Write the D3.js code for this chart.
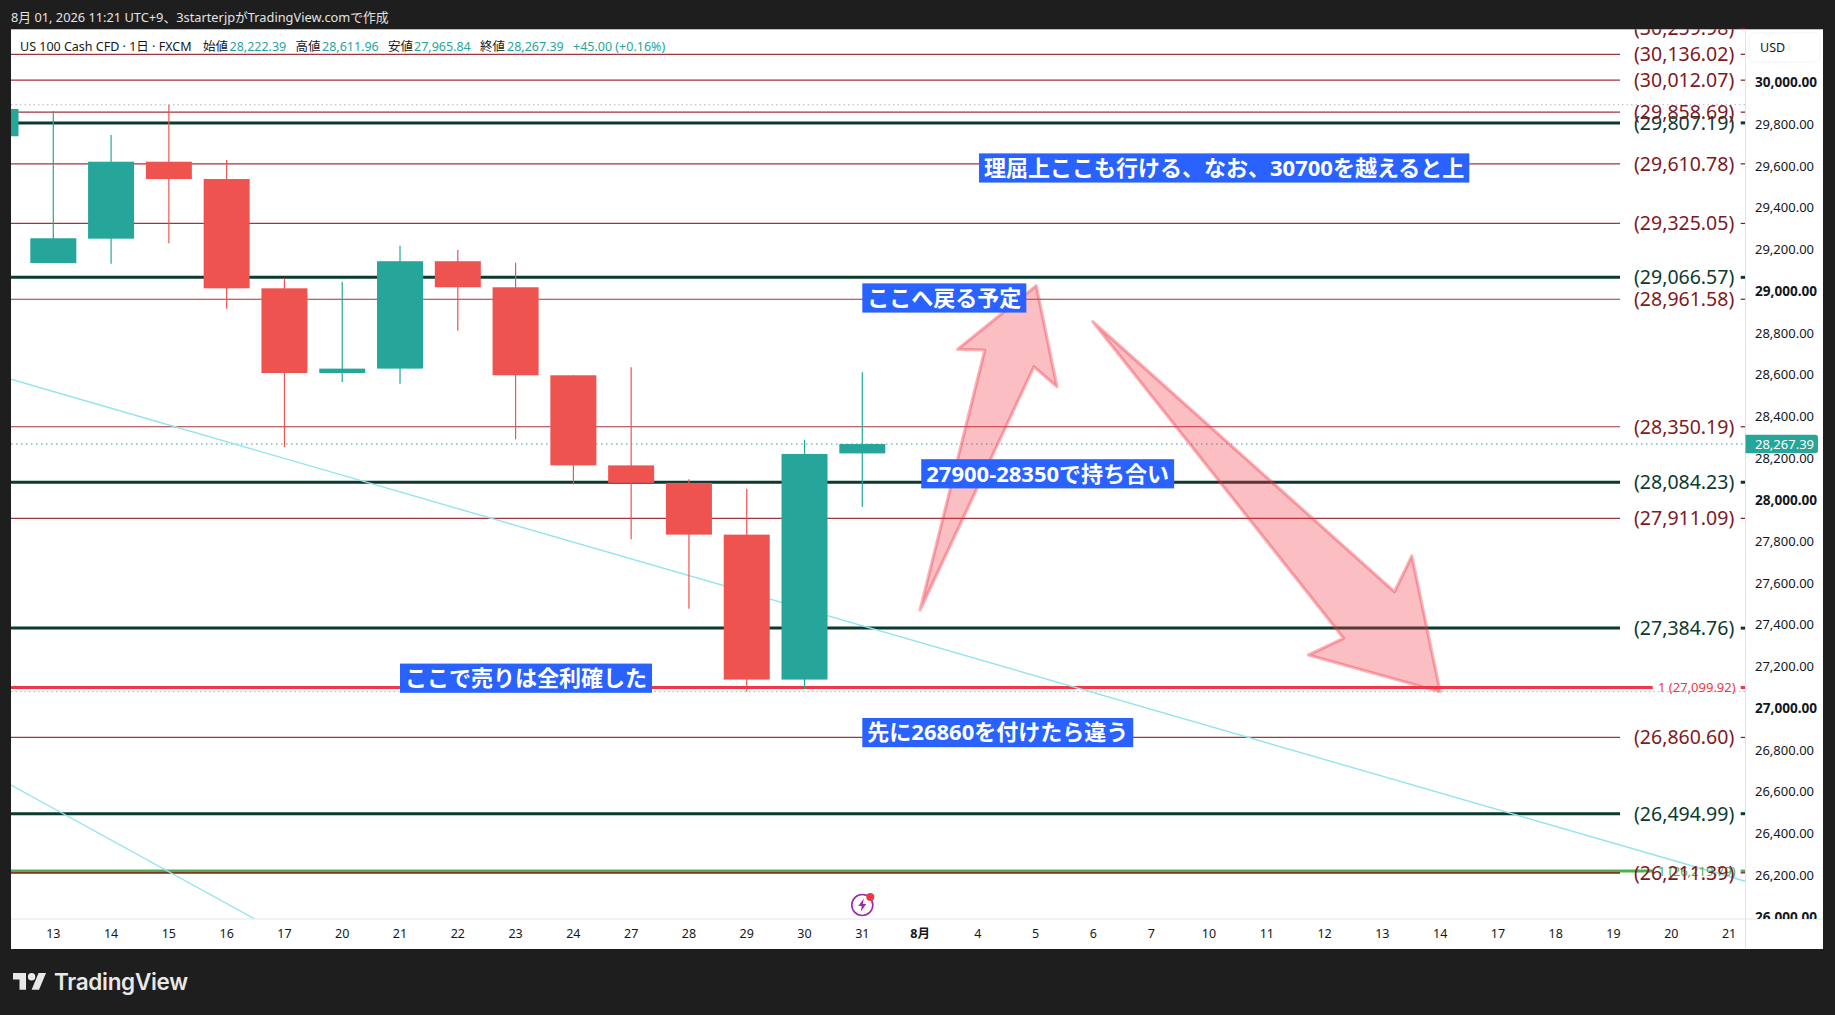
<!DOCTYPE html>
<html><head><meta charset="utf-8">
<script src="https://cdnjs.cloudflare.com/ajax/libs/d3/7.8.5/d3.min.js"></script>
<style>
html,body{margin:0;padding:0;background:#1e1e1e;overflow:hidden}
svg{display:block}
text{font-family:"Noto Sans","Noto Sans CJK JP",sans-serif}
</style></head><body><div id="c"></div>
<script>
// ---------- data ----------
const dates = ["13","14","15","16","17","20","21","22","23","24","27","28","29","30","31","8月","4","5","6","7","10","11","12","13","14","17","18","19","20","21"];
// OHLC, index -1 is the partial candle at the left edge
const candleIndex = [-1,0,1,2,3,4,5,6,7,8,9,10,11,12,13,14];
const opens  = [29743,29135,29252,29621,29538,29014,28608,28629,29144,29019,28597,28165,28081,27833,27138,28222.39];
const closes = [29874,29254,29621,29538,29014,28608,28629,29144,29019,28597,28165,28081,27833,27138,28220,28267.39];
const highs  = [29874,29864,29749,29894,29629,29062,29046,29218,29198,29137,28597,28635,28098,28053,28288,28611.96];
const lows   = [29743,29135,29132,29230,28916,28252,28565,28557,28811,28290,28074,27811,27478,27080,27091,27965.84];
const thinLevels = [30259.98,30136.02,30012.07,29858.69,29610.78,29325.05,28961.58,28350.19,27911.09,26860.60,26211.39];
const darkLevels = [29807.19,29066.57,28084.23,27384.76,26494.99];
const smallLevels = [[27099.92,"#f23645"],[26219.79,"#4caf50"]];
const axisTicks = [26000,26200,26400,26600,26800,27000,27200,27400,27600,27800,28000,28200,28400,28600,28800,29000,29200,29400,29600,29800,30000];
const lastPrice = 28267.39;
const trendA = [[-0.732,28577.8],[29.28,26171]];
const trendB = [[-0.732,26632.6],[3.49,25990]];
const arrowUp = [[15.0,27471.6],[16.12,28718.2],[15.65,28721.6],[17.01,29026.5],[17.37,28542.3],[16.97,28638.2]];
const arrowDown = [[17.99,28853.9],[23.21,27559.4],[23.51,27730.6],[24.0,27079.9],[21.72,27255.9],[22.33,27336]];
const notes = [
 ["理屈上ここも行ける、なお、30700を越えると上",16.02,29591],
 ["ここへ戻る予定",14,28967.6],
 ["27900-28350で持ち合い",15.02,28124.7],
 ["ここで売りは全利確した",6,27144.7],
 ["先に26860を付けたら違う",14.0,26884]
];
const legendParts = [
 ["US 100 Cash CFD · 1日 · FXCM",20,"#131722"],["始値",203,"#131722"],["28,222.39",229.5,"#26a69a"],
 ["高値",295.5,"#131722"],["28,611.96",322,"#26a69a"],["安値",388,"#131722"],["27,965.84",414,"#26a69a"],
 ["終値",480,"#131722"],["28,267.39",507,"#26a69a"],["+45.00 (+0.16%)",573,"#26a69a"]];
const headerText = "8月 01, 2026 11:21 UTC+9、3starterjpがTradingView.comで作成";

// ---------- layout ----------
const W=1835,H=1015;
const L=11,T=29.3,R=1745.5,B=919,PR=1823,PB=949;
const fmt=d3.format(",.2f");
const x=d3.scaleLinear().domain([0,14]).range([53.3,862.3]);
const y=d3.scaleLinear().domain([30136.02,26494.99]).range([54.3,813.7]);
const bodyW=46;
const thinC="#a2343c",labelRed="#801922",dark="#0b3b2e",cyan="#93e4ee";

const svg=d3.select("#c").append("svg").attr("width",W).attr("height",H);
const defs=svg.append("defs");
defs.append("clipPath").attr("id","plot").append("rect").attr("x",L).attr("y",T).attr("width",R-L).attr("height",B-T);
defs.append("clipPath").attr("id","axis").append("rect").attr("x",R).attr("y",T).attr("width",PR-R).attr("height",B-T);
svg.append("rect").attr("width",W).attr("height",H).attr("fill","#1e1e1e");
svg.append("rect").attr("x",L).attr("y",T).attr("width",PR-L).attr("height",PB-T).attr("fill","#fff");

svg.append("text").text(headerText).attr("x",11).attr("y",21.5).attr("font-size",12.8).attr("fill","#e3e3e3");

const plot=svg.append("g").attr("clip-path","url(#plot)");
const lineEndLabeled=1620, lineEndSmall=1652.7, labelX=1634, smallX=1658;

// horizontal levels
const hl=(g,arr,val,end,c,w)=>g.selectAll(null).data(arr).join("line").attr("x1",L).attr("x2",end)
 .attr("y1",d=>y(val(d))).attr("y2",d=>y(val(d))).attr("stroke",c).attr("stroke-width",w);
// dotted range lines
[d3.max(highs),d3.min(lows)].forEach(v=>{
 plot.append("line").attr("x1",L).attr("x2",R).attr("y1",y(v)).attr("y2",y(v)).attr("stroke","#b2b5be").attr("stroke-dasharray","1.5 3");
});
plot.append("line").attr("x1",L).attr("x2",R).attr("y1",y(lastPrice)).attr("y2",y(lastPrice)).attr("stroke","#26a69a").attr("stroke-dasharray","1.5 3.5");
hl(plot,thinLevels,d=>d,lineEndLabeled,thinC,1.2);
hl(plot,darkLevels,d=>d,lineEndLabeled,dark,3);
smallLevels.forEach(([v,c])=>{ plot.append("line").attr("x1",L).attr("x2",lineEndSmall).attr("y1",y(v)).attr("y2",y(v)).attr("stroke",c).attr("stroke-width",3); });
plot.selectAll(".t2").data([thinLevels[10]]).join("line").attr("x1",L).attr("x2",lineEndLabeled).attr("y1",d=>y(d)).attr("y2",d=>y(d)).attr("stroke",labelRed).attr("stroke-width",1.2);

// trend lines
[trendA,trendB].forEach(t=>{
 plot.append("line").attr("x1",x(t[0][0])).attr("y1",y(t[0][1])).attr("x2",x(t[1][0])).attr("y2",y(t[1][1])).attr("stroke",cyan).attr("stroke-width",1.4);
});

// candles
const candles=candleIndex.map((i,k)=>({i,o:opens[k],c:closes[k],h:highs[k],l:lows[k]}));
const col=d=>d.c>=d.o?"#26a69a":"#ef5350";
plot.selectAll(".w").data(candles).join("line").attr("x1",d=>x(d.i)).attr("x2",d=>x(d.i)).attr("y1",d=>y(d.h)).attr("y2",d=>y(d.l)).attr("stroke",col).attr("stroke-width",1.2);
plot.selectAll(".b").data(candles).join("rect").attr("x",d=>x(d.i)-bodyW/2).attr("width",bodyW)
 .attr("y",d=>y(Math.max(d.o,d.c))).attr("height",d=>Math.abs(y(d.o)-y(d.c))).attr("fill",col);

// arrows
const line=d3.line().x(d=>x(d[0])).y(d=>y(d[1])).curve(d3.curveLinearClosed);
[arrowUp,arrowDown].forEach(a=>{
 plot.append("path").attr("d",line(a)).attr("fill","rgba(242,54,69,0.32)").attr("stroke","rgba(242,54,69,0.38)").attr("stroke-width",3.2).attr("stroke-linejoin","round");
});

// right-hand level labels
const lab=(arr,val,c,tw)=>{
 svg.selectAll(null).data(arr).join("text").attr("clip-path","url(#plot)").text(d=>`(${fmt(val(d))})`).attr("x",labelX).attr("y",d=>y(val(d))).attr("dy","0.35em")
  .attr("font-size",19.5).attr("fill",c);
 svg.selectAll(null).data(arr).join("line").attr("x1",1740.7).attr("x2",R-.5).attr("y1",d=>y(val(d))).attr("y2",d=>y(val(d))).attr("stroke",c).attr("stroke-width",tw);
};
smallLevels.forEach(([v,c])=>{
 svg.append("text").text(`1 (${fmt(v)})`).attr("x",smallX).attr("y",y(v)).attr("dy","0.35em").attr("font-size",13).attr("fill",c);
 svg.append("line").attr("x1",1740.7).attr("x2",R-.5).attr("y1",y(v)).attr("y2",y(v)).attr("stroke",c).attr("stroke-width",3);
});
lab(darkLevels,d=>d,dark,3);
lab(thinLevels,d=>d,labelRed,1.2);

// notes
notes.forEach(([t,i,p])=>{
 const g=svg.append("g");
 const r=g.append("rect").attr("fill","#2962ff");
 const tx=g.append("text").text(t).attr("x",x(i)+5).attr("y",y(p)).attr("dy","0.36em").attr("font-size",22).attr("font-weight",700).attr("fill","#fff");
 const w=tx.node().getComputedTextLength();
 r.attr("x",x(i)).attr("y",y(p)-14.6).attr("width",w+10).attr("height",29.2);
});

// lightning icon
const ic=svg.append("g").attr("transform",`translate(${x(14)},905)`);
ic.append("circle").attr("r",10.5).attr("fill","#fff").attr("stroke","#9c27b0").attr("stroke-width",1.6);
ic.append("path").attr("d","M1.5,-6.5 L-4,1 L-0.5,1 L-1.5,6.5 L4,-1 L0.5,-1 Z").attr("fill","#9c27b0");
ic.append("circle").attr("cx",8).attr("cy",-8).attr("r",4).attr("fill","#f23645");

// separators
svg.append("line").attr("x1",R).attr("x2",R).attr("y1",T).attr("y2",PB).attr("stroke","#e0e3eb");
svg.append("line").attr("x1",L).attr("x2",PR).attr("y1",B).attr("y2",B).attr("stroke","#e0e3eb");

// legend
const lg=svg.append("g");
lg.selectAll("text").data(legendParts).join("text").text(d=>d[0]).attr("x",d=>d[1]).attr("y",46.7).attr("dy","0.35em").attr("font-size",12.5).attr("fill",d=>d[2]);

// price axis
const ax=svg.append("g").attr("clip-path","url(#axis)");
ax.selectAll("text").data(axisTicks).join("text").text(d=>fmt(d)).attr("x",1755).attr("y",d=>y(d)).attr("dy","0.35em")
 .attr("font-size",d=>d%1000===0?13.6:13).attr("font-weight",d=>d%1000===0?700:400).attr("fill","#131722");
const tagY=y(lastPrice);
svg.append("path").attr("d",`M${R},${tagY-9.2}H1815a3,3 0 0 1 3,3V${tagY+6.2}a3,3 0 0 1 -3,3H${R}Z`).attr("fill","#26a69a");
svg.append("text").text(fmt(lastPrice)).attr("x",1755).attr("y",tagY).attr("dy","0.35em").attr("font-size",13).attr("fill","#fff");
svg.append("rect").attr("x",1749).attr("y",33).attr("width",71).attr("height",29).attr("rx",6).attr("fill","#fff").attr("stroke","#f0f3fa");
svg.append("text").text("USD").attr("x",1760).attr("y",48).attr("dy","0.35em").attr("font-size",12.5).attr("fill","#131722");

// time axis
svg.append("g").selectAll("text").data(dates).join("text").text(d=>d).attr("x",(d,i)=>x(i)).attr("y",934).attr("dy","0.35em")
 .attr("text-anchor","middle").attr("font-size",12.5).attr("font-weight",d=>d==="8月"?700:400).attr("fill","#131722");

// logo
const logo=svg.append("g").attr("transform","translate(13,969.3) scale(0.93)").attr("fill","#e8e8e8");
logo.append("path").attr("d","M14 22H7V11H0V4h14v18zM28 22h-8l7.5-18h8L28 22z");
logo.append("circle").attr("cx",20).attr("cy",8).attr("r",4);
svg.append("text").text("TradingView").attr("x",54).attr("y",990).attr("font-size",22.5).attr("font-weight",600).attr("fill","#e8e8e8").style("font-family","Inter,sans-serif").style("letter-spacing","-0.3px");
</script></body></html>
